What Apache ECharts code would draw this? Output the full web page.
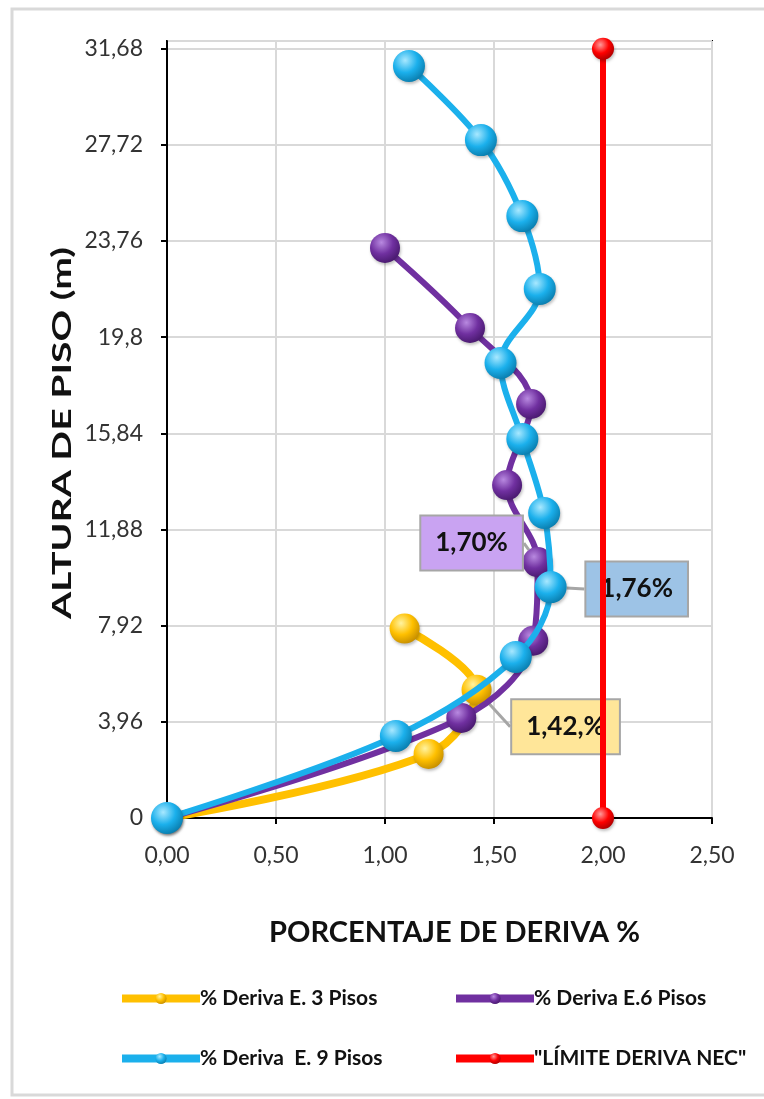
<!DOCTYPE html>
<html>
<head>
<meta charset="utf-8">
<script src="https://cdn.jsdelivr.net/npm/echarts@6/dist/echarts.min.js"></script>
<style>
html,body{margin:0;padding:0;background:#fff;}
#c{width:764px;height:1099px;}
</style>
</head>
<body>
<div id="c"></div>
<script>
// ---- data ----
var xTickLabels = ['0,00','0,50','1,00','1,50','2,00','2,50'];
var yTickLabels = ['0','3,96','7,92','11,88','15,84','19,8','23,76','27,72','31,68'];

var heights3 = [0, 2.64, 5.28, 7.80];
var drift3   = [0, 1.20, 1.42, 1.09];

var heights6 = [0, 4.12, 7.30, 10.54, 13.71, 17.05, 20.18, 23.48];
var drift6   = [0, 1.35, 1.68, 1.70, 1.56, 1.67, 1.39, 1.00];

var heights9 = [0, 3.38, 6.63, 9.51, 12.56, 15.61, 18.74, 21.79, 24.79, 27.92, 30.97];
var drift9   = [0, 1.05, 1.60, 1.76, 1.73, 1.63, 1.53, 1.71, 1.63, 1.44, 1.11];

var heightsLim = [0, 31.68];
var driftLim   = [2.00, 2.00];

var seriesNames = ['% Deriva E. 3 Pisos', '% Deriva E.6 Pisos', '% Deriva  E. 9 Pisos', '"LÍMITE DERIVA NEC"'];
var calloutText = ['1,42,%', '1,70%', '1,76%'];
var xTitle = 'PORCENTAJE DE DERIVA %';
var yTitle = 'ALTURA DE PISO (m)';

// ---- helpers ----
function pairs(xs, ys){ return xs.map(function(x,i){ return [x, ys[i]]; }); }
function sphere(base, light, dark){
  return {type:'radial', x:0.38, y:0.32, r:0.7,
    colorStops:[{offset:0,color:light},{offset:0.55,color:base},{offset:1,color:dark}]};
}
var FONT = 'Lato';

var cYellow = '#FFC000', cPurple = '#7030A0', cCyan = '#1BB0EC', cRed = '#FF0000';

function withCallout(data, idx, text, bg){
  data[idx] = {value: data[idx], label:{
    show:true, position:'inside', formatter:text,
    backgroundColor:bg, borderColor:'#A6A6A6', borderWidth:2,
    padding:[15,14,12,14], color:'#111', fontSize:26, fontWeight:'bold', fontFamily:FONT
  }, labelLine:{show:true, lineStyle:{color:'#A6A6A6', width:3}}};
  return data;
}

var d3 = withCallout(pairs(drift3, heights3), 2, calloutText[0], '#FFE699');
var d6 = withCallout(pairs(drift6, heights6), 3, calloutText[1], '#C9A3F2');
var d9 = withCallout(pairs(drift9, heights9), 3, calloutText[2], '#9DC3E6');

var offsets = {0:{2:[89,37]}, 1:{3:[-66,-19]}, 2:{3:[86,2]}};

function lineSeries(name, data, color, light, dark, size, width, sIdx){
  return {
    name:name, type:'line', data:data, smooth:0.35,
    symbol:'circle', symbolSize:size, showAllSymbol:true,
    lineStyle:{color:color, width:width},
    itemStyle:{color:sphere(color, light, dark), borderWidth:0,
      shadowColor:'rgba(0,0,0,0.25)', shadowBlur:3, shadowOffsetX:1, shadowOffsetY:2},
    label:{show:false},
    labelLayout:function(p){
      var o = offsets[sIdx] && offsets[sIdx][p.dataIndex];
      if(o){ return {dx:o[0], dy:o[1]}; }
      return {};
    },
    emphasis:{disabled:true},
    z: 2 + sIdx
  };
}

function leg(name, left, top, color){
  return {
    data:[name], left:left, top:top,
    itemWidth:78, itemHeight:14, itemGap:0,
    lineStyle:{width:8, color:color},
    textStyle:{fontFamily:FONT, fontSize:21, fontWeight:'bold', color:'#111', padding:[0,0,0,-5]},
    selectedMode:false
  };
}

var chart = echarts.init(document.getElementById('c'), null, {renderer:'canvas'});
chart.setOption({
  animation:false,
  backgroundColor:'#fff',
  graphic:[
    {type:'rect', shape:{x:12, y:9, width:760, height:1086},
      style:{fill:'none', stroke:'#D9D9D9', lineWidth:3}, silent:true},
    {type:'text', x:62, y:433, rotation:Math.PI/2, scaleX:1.45, scaleY:1.0,
      style:{text:yTitle, fontFamily:FONT, fontSize:27, fontWeight:'bold', fill:'#111',
        align:'center', verticalAlign:'middle'}, silent:true}
  ],
  grid:{left:167, right:52, top:41, bottom:281, show:true, borderColor:'#000', borderWidth:2, containLabel:false},
  legend:[
    leg(seriesNames[0], 113, 983, cYellow),
    leg(seriesNames[1], 447, 983, cPurple),
    leg(seriesNames[2], 113, 1043, cCyan),
    leg(seriesNames[3], 447, 1043, cRed)
  ],
  xAxis:{
    type:'value', min:0, max:2.5, interval:0.5,
    name:xTitle, nameLocation:'middle', nameGap:100,
    nameTextStyle:{fontFamily:FONT, fontSize:29, fontWeight:'bold', color:'#111', padding:[0,0,0,30]},
    axisLine:{show:true, lineStyle:{color:'#000', width:2}},
    axisTick:{show:true, length:6, lineStyle:{color:'#000', width:2}},
    axisLabel:{margin:26, fontFamily:FONT, fontSize:23, color:'#333',
      formatter:function(v){ return xTickLabels[Math.round(v/0.5)] || ''; }},
    splitLine:{show:true, lineStyle:{color:'#D9D9D9', width:2}}
  },
  yAxis:{
    type:'value', min:0, max:32, interval:3.96,
    axisLine:{show:true, lineStyle:{color:'#000', width:2}},
    axisTick:{show:true, length:6, lineStyle:{color:'#000', width:2}},
    axisLabel:{margin:24, fontFamily:FONT, fontSize:23, color:'#333', showMaxLabel:false,
      formatter:function(v){ var i = Math.round(v/3.96); return (Math.abs(i*3.96 - v) < 0.01) ? (yTickLabels[i] || '') : ''; }},
    splitLine:{show:true, lineStyle:{color:'#D9D9D9', width:2}}
  },
  series:[
    lineSeries(seriesNames[0], d3, cYellow, '#FFF3A0', '#C89000', 30, 8, 0),
    lineSeries(seriesNames[1], d6, cPurple, '#B889E0', '#4A1A70', 30, 6, 1),
    lineSeries(seriesNames[2], d9, cCyan, '#A8E8FF', '#0A7FB0', 32, 6, 2),
    lineSeries(seriesNames[3], pairs(driftLim, heightsLim), cRed, '#FF9A9A', '#B00000', 22, 6, 3)
  ]
});
</script>
</body>
</html>
